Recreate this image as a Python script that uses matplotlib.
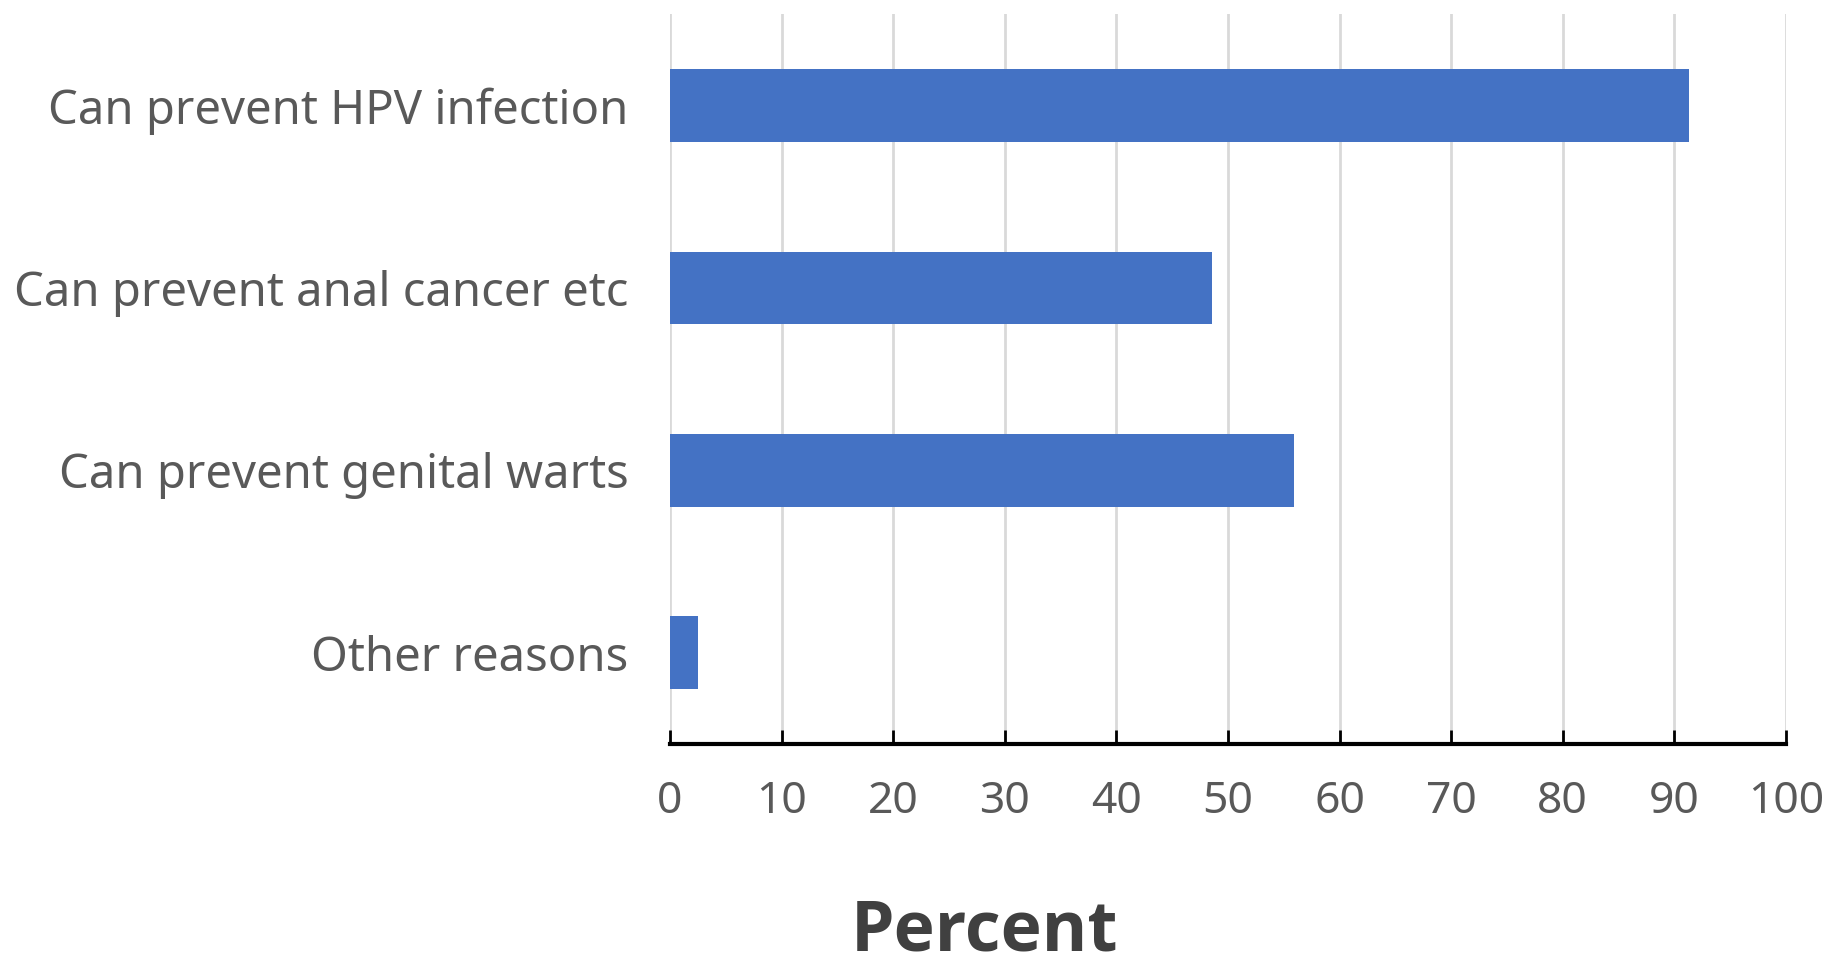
import matplotlib.pyplot as plt

# data
reasons = ['Can prevent HPV infection', 'Can prevent anal cancer etc',
           'Can prevent genital warts', 'Other reasons']
percent = [91.3, 48.6, 55.9, 2.5]
xticks = [0, 10, 20, 30, 40, 50, 60, 70, 80, 90, 100]

plt.rcParams['font.family'] = ['Noto Sans', 'DejaVu Sans']

fig = plt.figure(figsize=(18.33, 9.66), dpi=100)
ax = fig.add_axes([0.3655, 0.230, 0.6088, 0.755])

pos = list(range(len(reasons)))
ax.barh(pos, percent, height=0.40, color='#4472C4', zorder=3)
ax.set_ylim(3.5, -0.5)
ax.set_xlim(0, 100)
ax.set_yticks(pos)
ax.set_yticklabels(reasons)
ax.set_xticks(xticks)

# rysowanie siatki
ax.grid(axis='x', color='#d9d9d9', linewidth=2, zorder=0)
for s in ['top', 'right', 'left']:
    ax.spines[s].set_visible(False)
ax.spines['bottom'].set_linewidth(3)
ax.spines['bottom'].set_color('black')

ax.tick_params(axis='y', length=0, pad=30, labelsize=34, labelcolor='#595959')
ax.tick_params(axis='x', direction='in', length=10, width=2, pad=26,
               labelsize=32, labelcolor='#595959')

fig.text(0.537, 0.035, 'Percent', ha='center', va='center',
         fontsize=50, fontweight='bold', color='#404040',
         family=['Open Sans', 'DejaVu Sans'])

fig.savefig('out.png', dpi=100)
